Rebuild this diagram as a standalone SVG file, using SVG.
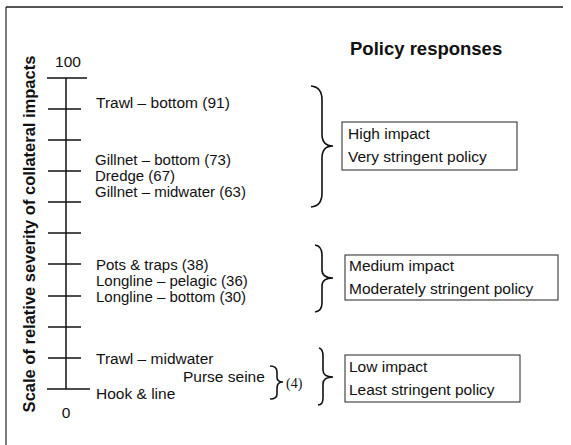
<svg xmlns="http://www.w3.org/2000/svg" width="571" height="445" viewBox="0 0 571 445">
<style>
text{font-family:"Liberation Sans",Arial,sans-serif;fill:#111}
.lab{font-size:15.5px}
.g{font-size:15px}
.ax{stroke:#111;stroke-width:1.5;fill:none}
.br{stroke:#111;stroke-width:1.6;fill:none}
.box{stroke:#222;stroke-width:1;fill:#fff}
</style>
<rect width="571" height="445" fill="#fff"/>
<line x1="6" y1="7" x2="563" y2="7" stroke="#555" stroke-width="2"/>
<line x1="6" y1="7" x2="6" y2="445" stroke="#222" stroke-width="1.2"/>
<text x="350" y="55" font-weight="bold" font-size="18.5">Policy responses</text>
<text transform="translate(35,234) rotate(-90)" text-anchor="middle" font-weight="bold" font-size="16.5">Scale of relative severity of collateral impacts</text>
<g id="axis">
<line class="ax" x1="66" y1="78" x2="66" y2="389" stroke-width="2"/>
<line class="ax" x1="47" y1="78" x2="87" y2="78"/>
<line class="ax" x1="48" y1="109" x2="81" y2="109"/>
<line class="ax" x1="48" y1="140" x2="81" y2="140"/>
<line class="ax" x1="48" y1="171" x2="81" y2="171"/>
<line class="ax" x1="48" y1="202" x2="81" y2="202"/>
<line class="ax" x1="48" y1="233" x2="81" y2="233"/>
<line class="ax" x1="48" y1="264" x2="81" y2="264"/>
<line class="ax" x1="48" y1="296" x2="81" y2="296"/>
<line class="ax" x1="48" y1="327" x2="81" y2="327"/>
<line class="ax" x1="48" y1="358" x2="81" y2="358"/>
<line class="ax" x1="47" y1="389" x2="90" y2="389"/>
<text class="lab" x="68" y="67" text-anchor="middle">100</text>
<text class="lab" x="66" y="418" text-anchor="middle">0</text>
</g>
<g id="gears">
<text class="lab" x="96" y="108">Trawl – bottom (91)</text>
<text class="g" x="95" y="165">Gillnet – bottom (73)</text>
<text class="g" x="95" y="181">Dredge (67)</text>
<text class="g" x="95" y="197">Gillnet – midwater (63)</text>
<text class="g" x="96" y="270">Pots &amp; traps (38)</text>
<text class="g" x="96" y="286">Longline – pelagic (36)</text>
<text class="g" x="96" y="302">Longline – bottom (30)</text>
<text class="lab" x="96" y="364">Trawl – midwater</text>
<text class="lab" x="183" y="382">Purse seine</text>
<text class="lab" x="96" y="399">Hook &amp; line</text>
<path class="br" d="M270,366 Q277,366 277,372 L277,377 Q277,382 283,382 Q277,382 277,388 L277,394 Q277,399 270,399" stroke-width="1.1"/>
<text x="286" y="388" font-size="14" style="font-family:'Liberation Serif',serif">(4)</text>
</g>
<g id="connectors">
<path class="br" d="M311,86 Q322,87 322,100 L322,134 Q322,146 333,146 Q322,146 322,158 L322,193 Q322,206 311,207"/>
<path class="br" d="M315,245 Q322,246 322,255 L322,270 Q322,278 333,278 Q322,278 322,286 L322,303 Q322,311 315,312"/>
<path class="br" d="M319,348 Q323,349 323,356 L323,370 Q323,377 333,377 Q323,377 323,384 L323,398 Q323,405 318,405"/>
</g>
<g id="high">
<rect class="box" x="342" y="122" width="175" height="48"/>
<text class="lab" x="348" y="139">High impact</text>
<text class="lab" x="348" y="162">Very stringent policy</text>
</g>
<g id="medium">
<rect class="box" x="345" y="255" width="213" height="45"/>
<text class="lab" x="349" y="271">Medium impact</text>
<text class="lab" x="349" y="294">Moderately stringent policy</text>
</g>
<g id="low">
<rect class="box" x="345" y="355" width="175" height="47"/>
<text class="lab" x="349" y="372">Low impact</text>
<text class="lab" x="349" y="395">Least stringent policy</text>
</g>
</svg>
